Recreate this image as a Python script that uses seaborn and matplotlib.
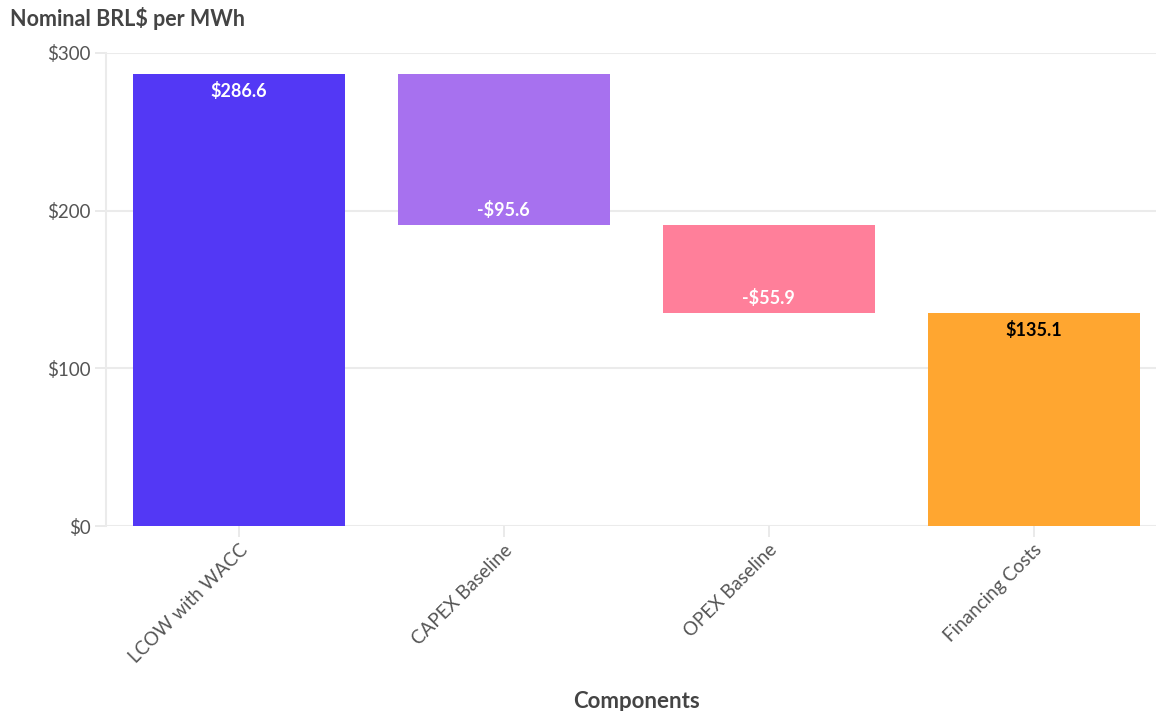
import matplotlib
matplotlib.use("Agg")
import matplotlib.pyplot as plt
import seaborn as sns
import pandas as pd

categories = ["LCOW with WACC", "CAPEX Baseline", "OPEX Baseline", "Financing Costs"]
values = [286.6, -95.6, -55.9, 135.1]
kinds = ["total", "delta", "delta", "total"]
colors = ["#5338f5", "#a771ef", "#ff7f9a", "#ffa630"]
label_colors = ["white", "white", "white", "black"]
yticks = [0, 100, 200, 300]
ytick_labels = ["$0", "$100", "$200", "$300"]

# waterfall geometry from values
bottoms, heights = [], []
running = 0.0
for v, k in zip(values, kinds):
    if k == "total":
        bottoms.append(0.0)
        heights.append(v)
        running = v
    else:
        if v < 0:
            bottoms.append(running + v)
            heights.append(-v)
        else:
            bottoms.append(running)
            heights.append(v)
        running += v

df = pd.DataFrame({"cat": categories, "height": heights, "bottom": bottoms})

sns.set_theme(style="white")
plt.rcParams["font.family"] = ["Lato", "DejaVu Sans"]

W, H = 1156, 711
fig = plt.figure(figsize=(W / 100, H / 100), dpi=100)
ax = fig.add_axes([106 / W, 1 - 526 / H, 1060 / W, (526 - 53) / H])

for i, row in df.iterrows():
    sns.barplot(x=[row["cat"]], y=[row["height"]], order=categories, bottom=row["bottom"],
                color=colors[i], saturation=1, width=0.8, linewidth=0,
                ax=ax, zorder=3)

ax.set_ylim(0, 300)
ax.set_xlim(-0.5, 3.5)
ax.set_yticks(yticks)
ax.set_yticklabels(ytick_labels)
ax.grid(axis="y", color="#ebebeb", linewidth=1.5, zorder=0)
ax.set_axisbelow(True)
for s in ["top", "right", "bottom"]:
    ax.spines[s].set_visible(False)
ax.spines["left"].set_color("#ebebeb")
ax.spines["left"].set_linewidth(1.5)
ax.tick_params(axis="both", colors="#e6e6e6", length=8, width=1.2, labelcolor="#555555",
               labelsize=13.5, left=True, bottom=True, pad=3)
ax.set_xticks(range(len(categories)))
ax.set_xticklabels(categories, rotation=45, ha="right", rotation_mode="anchor")
ax.set_xlabel("Components", fontsize=16, fontweight="bold", color="#444444", labelpad=18)
ax.set_ylabel("")

for i, (v, k) in enumerate(zip(values, kinds)):
    txt = f"${v:.1f}" if v >= 0 else f"-${abs(v):.1f}"
    if k == "total" or v > 0:
        y = bottoms[i] + heights[i]
        off = -6
        va = "top"
    else:
        y = bottoms[i]
        off = 4
        va = "bottom"
    ax.annotate(txt, (i, y), xytext=(0, off), textcoords="offset points",
                ha="center", va=va, fontsize=13, fontweight="bold",
                color=label_colors[i], zorder=5)

fig.text(10 / W, 1 - 19 / H, "Nominal BRL$ per MWh", fontsize=15.5, fontweight="bold",
         color="#444444", ha="left", va="center")

fig.savefig("out.png", dpi=100)
